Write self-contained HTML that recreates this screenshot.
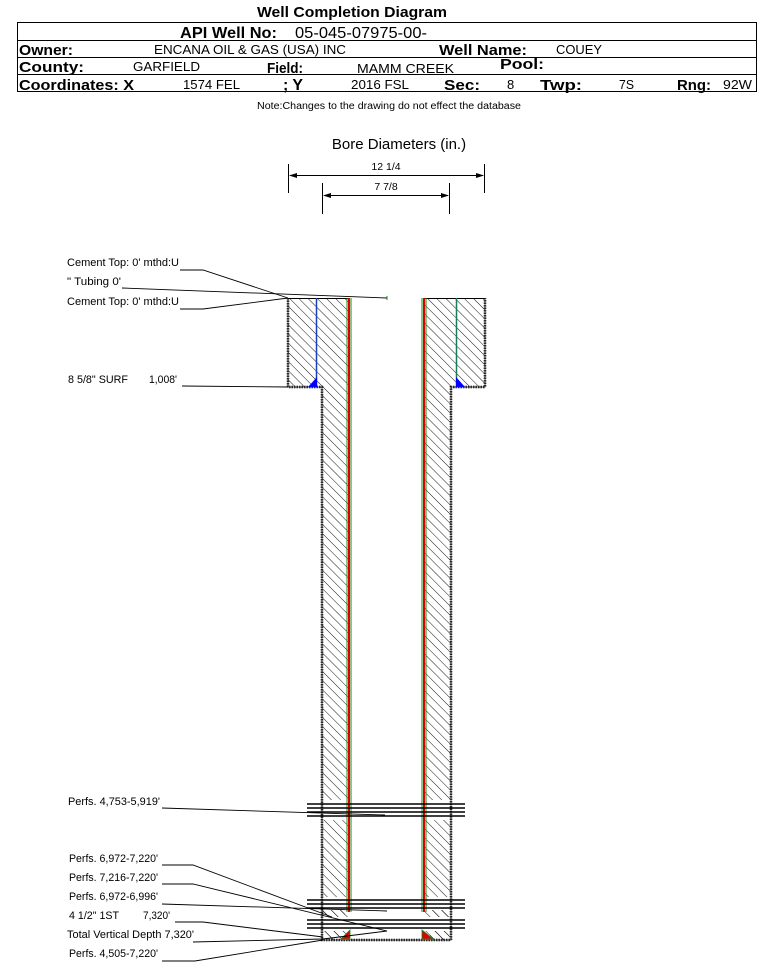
<!DOCTYPE html>
<html><head><meta charset="utf-8"><style>
html,body{margin:0;padding:0;background:#fff;}
svg{display:block;font-family:"Liberation Sans",Arial,sans-serif;}
</style></head><body>
<svg width="759" height="962" viewBox="0 0 759 962" xmlns="http://www.w3.org/2000/svg">
<defs>
<pattern id="h" patternUnits="userSpaceOnUse" width="6.5" height="6.5" patternTransform="rotate(-45)">
<line x1="0" y1="0" x2="0" y2="6.5" stroke="#000" stroke-width="0.9"/>
</pattern>
</defs>
<text x="257" y="17" font-size="15" font-weight="bold" textLength="190" lengthAdjust="spacingAndGlyphs">Well Completion Diagram</text>
<rect x="17.5" y="22.5" width="739" height="69" fill="none" stroke="#000" stroke-width="1"/>
<line x1="17" y1="40.5" x2="757" y2="40.5" stroke="#000"/>
<line x1="17" y1="57.5" x2="757" y2="57.5" stroke="#000"/>
<line x1="17" y1="74.5" x2="757" y2="74.5" stroke="#000"/>
<text x="180" y="38" font-size="16" font-weight="bold" textLength="97" lengthAdjust="spacingAndGlyphs">API Well No:</text>
<text x="295" y="38" font-size="16" textLength="132" lengthAdjust="spacingAndGlyphs">05-045-07975-00-</text>
<text x="19" y="55" font-size="15" font-weight="bold" textLength="54" lengthAdjust="spacingAndGlyphs">Owner:</text>
<text x="154" y="54" font-size="13" textLength="192" lengthAdjust="spacingAndGlyphs">ENCANA OIL &amp; GAS (USA) INC</text>
<text x="439" y="55" font-size="15" font-weight="bold" textLength="88" lengthAdjust="spacingAndGlyphs">Well Name:</text>
<text x="556" y="54" font-size="13" textLength="46" lengthAdjust="spacingAndGlyphs">COUEY</text>
<text x="19" y="72" font-size="15" font-weight="bold" textLength="65" lengthAdjust="spacingAndGlyphs">County:</text>
<text x="133" y="71" font-size="13" textLength="67" lengthAdjust="spacingAndGlyphs">GARFIELD</text>
<text x="267" y="73" font-size="15" font-weight="bold" textLength="36" lengthAdjust="spacingAndGlyphs">Field:</text>
<text x="357" y="73" font-size="13" textLength="97" lengthAdjust="spacingAndGlyphs">MAMM CREEK</text>
<text x="500" y="69" font-size="15" font-weight="bold" textLength="44" lengthAdjust="spacingAndGlyphs">Pool:</text>
<text x="19" y="90" font-size="15" font-weight="bold" textLength="115" lengthAdjust="spacingAndGlyphs">Coordinates: X</text>
<text x="183" y="89" font-size="13" textLength="57" lengthAdjust="spacingAndGlyphs">1574 FEL</text>
<text x="283" y="90" font-size="16" font-weight="bold" textLength="20" lengthAdjust="spacingAndGlyphs">; Y</text>
<text x="351" y="89" font-size="13" textLength="58" lengthAdjust="spacingAndGlyphs">2016 FSL</text>
<text x="444" y="90" font-size="15" font-weight="bold" textLength="36" lengthAdjust="spacingAndGlyphs">Sec:</text>
<text x="507" y="89" font-size="13">8</text>
<text x="540" y="90" font-size="15" font-weight="bold" textLength="42" lengthAdjust="spacingAndGlyphs">Twp:</text>
<text x="619" y="89" font-size="13" textLength="15" lengthAdjust="spacingAndGlyphs">7S</text>
<text x="677" y="90" font-size="15" font-weight="bold" textLength="34" lengthAdjust="spacingAndGlyphs">Rng:</text>
<text x="723" y="89" font-size="13" textLength="29" lengthAdjust="spacingAndGlyphs">92W</text>
<text x="257" y="109" font-size="10" textLength="264" lengthAdjust="spacingAndGlyphs">Note:Changes to the drawing do not effect the database</text>

<text x="399" y="149" font-size="15" text-anchor="middle">Bore Diameters (in.)</text>
<line x1="288.5" y1="164" x2="288.5" y2="193" stroke="#000"/>
<line x1="484.5" y1="164" x2="484.5" y2="193" stroke="#000"/>
<line x1="322.5" y1="183" x2="322.5" y2="214" stroke="#000"/>
<line x1="449.5" y1="183" x2="449.5" y2="214" stroke="#000"/>
<line x1="290" y1="175.5" x2="483" y2="175.5" stroke="#000"/>
<polygon points="289,175.5 297,173 297,178" fill="#000"/>
<polygon points="484,175.5 476,173 476,178" fill="#000"/>
<text x="386" y="170" font-size="10.5" text-anchor="middle">12 1/4</text>
<line x1="324" y1="195.5" x2="448" y2="195.5" stroke="#000"/>
<polygon points="323,195.5 331,193 331,198" fill="#000"/>
<polygon points="449,195.5 441,193 441,198" fill="#000"/>
<text x="386" y="190" font-size="10.5" text-anchor="middle">7 7/8</text>

<path d="M288,298 H348 V940 H322 V387 H288 Z" fill="url(#h)"/>
<path d="M424,298 H485 V387 H451 V940 H424 Z" fill="url(#h)"/>
<rect x="322" y="897" width="129" height="13" fill="#fff"/>
<rect x="322" y="917" width="129" height="14" fill="#fff"/>
<rect x="323" y="910" width="22" height="7" fill="url(#h)"/>
<rect x="430" y="910" width="20" height="7" fill="url(#h)"/>
<rect x="323" y="931" width="20" height="8" fill="url(#h)"/>
<rect x="430" y="931" width="20" height="8" fill="url(#h)"/>
<rect x="322" y="800" width="26" height="20" fill="#fff"/>
<rect x="424" y="800" width="27" height="20" fill="#fff"/>

<path d="M288,298 V387 H322 V940 H451 V387 H485 V298" fill="none" stroke="#000" stroke-width="2.5" stroke-dasharray="1.5,1"/>
<path d="M288,298 V387 H322 V940 H451 V387 H485 V298" fill="none" stroke="#555" stroke-width="1"/>
<line x1="288" y1="298.5" x2="348" y2="298.5" stroke="#000"/>
<line x1="424" y1="298.5" x2="485" y2="298.5" stroke="#000"/>

<line x1="316.5" y1="298" x2="316.5" y2="387" stroke="#1a3fbf" stroke-width="1.5"/>
<line x1="456.5" y1="298" x2="456.5" y2="387" stroke="#1a7a5a" stroke-width="1.5"/>
<polygon points="308,387 317,387 317,377" fill="#0000ff"/>
<polygon points="456,387 465,387 456,377" fill="#0000ff"/>

<line x1="347" y1="298" x2="347" y2="912" stroke="#1a8a1a" stroke-width="1"/>
<line x1="349" y1="298" x2="349" y2="912" stroke="#e00000" stroke-width="2"/>
<line x1="351" y1="298" x2="351" y2="912" stroke="#1a8a1a" stroke-width="1"/>
<line x1="422" y1="298" x2="422" y2="912" stroke="#1a8a1a" stroke-width="1"/>
<line x1="424" y1="298" x2="424" y2="912" stroke="#e00000" stroke-width="2"/>
<line x1="426" y1="298" x2="426" y2="912" stroke="#1a8a1a" stroke-width="1"/>
<polygon points="341,939 350,939 350,930" fill="#e00000" stroke="#1a8a1a" stroke-width="0.8"/>
<polygon points="422,939 433,939 422,930" fill="#e00000" stroke="#1a8a1a" stroke-width="0.8"/>

<g stroke="#000" stroke-width="1.6">
<line x1="307" y1="804" x2="465" y2="804"/>
<line x1="307" y1="808" x2="465" y2="808"/>
<line x1="307" y1="812" x2="465" y2="812"/>
<line x1="307" y1="816" x2="465" y2="816"/>
<line x1="307" y1="900" x2="465" y2="900"/>
<line x1="307" y1="904" x2="465" y2="904"/>
<line x1="307" y1="908" x2="465" y2="908"/>
<line x1="307" y1="920" x2="465" y2="920"/>
<line x1="307" y1="924" x2="465" y2="924"/>
<line x1="307" y1="928" x2="465" y2="928"/>
</g>

<g stroke="#000" stroke-width="0.9" fill="none">
<polyline points="180,270 203,270 288,298"/>
<polyline points="122,288 387,298"/>
<polyline points="180,309 203,309 288,298"/>
<polyline points="182,386 288,387"/>
<polyline points="162,808 385,815"/>
<polyline points="162,865 193,865 332,917"/>
<polyline points="162,884 193,884 387,931 323,939"/>
<polyline points="162,904 387,911"/>
<polyline points="175,922 203,922 323,937"/>
<polyline points="193,942 323,939"/>
<polyline points="162,961 195,961 323,940"/>
</g>
<line x1="387" y1="296" x2="387" y2="300" stroke="#1a8a1a"/>

<g font-size="11" fill="#000">
<text x="67" y="266" textLength="112" lengthAdjust="spacingAndGlyphs">Cement Top: 0' mthd:U</text>
<text x="67" y="285" textLength="54" lengthAdjust="spacingAndGlyphs">" Tubing 0'</text>
<text x="67" y="305" textLength="112" lengthAdjust="spacingAndGlyphs">Cement Top: 0' mthd:U</text>
<text x="68" y="383" textLength="60" lengthAdjust="spacingAndGlyphs">8 5/8" SURF</text>
<text x="149" y="383" textLength="28" lengthAdjust="spacingAndGlyphs">1,008'</text>
<text x="68" y="805" textLength="92" lengthAdjust="spacingAndGlyphs">Perfs. 4,753-5,919'</text>
<text x="69" y="862" textLength="89" lengthAdjust="spacingAndGlyphs">Perfs. 6,972-7,220'</text>
<text x="69" y="881" textLength="89" lengthAdjust="spacingAndGlyphs">Perfs. 7,216-7,220'</text>
<text x="69" y="900" textLength="89" lengthAdjust="spacingAndGlyphs">Perfs. 6,972-6,996'</text>
<text x="69" y="919" textLength="50" lengthAdjust="spacingAndGlyphs">4 1/2" 1ST</text>
<text x="143" y="919" textLength="27" lengthAdjust="spacingAndGlyphs">7,320'</text>
<text x="67" y="938" textLength="127" lengthAdjust="spacingAndGlyphs">Total Vertical Depth 7,320'</text>
<text x="69" y="957" textLength="89" lengthAdjust="spacingAndGlyphs">Perfs. 4,505-7,220'</text>
</g>
</svg>
</body></html>
